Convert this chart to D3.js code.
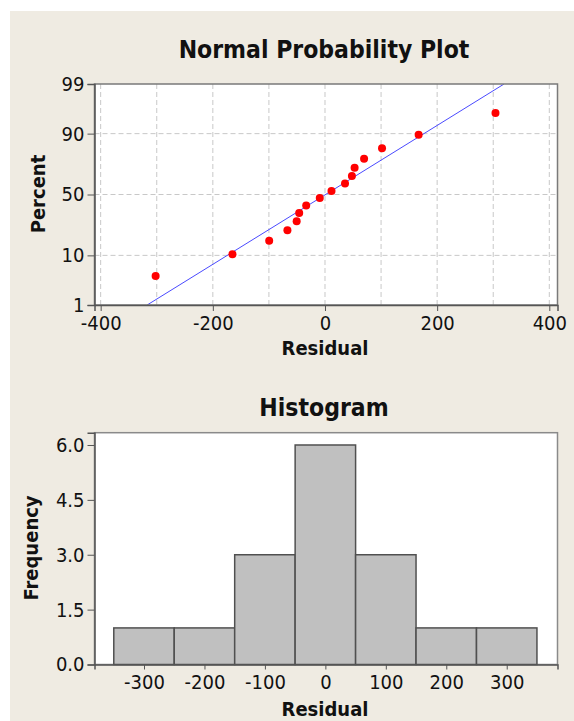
<!DOCTYPE html>
<html>
<head>
<meta charset="utf-8">
<script src="https://cdn.jsdelivr.net/npm/d3@7"></script>
<style>
  body { margin: 0; background: #fff; }
  svg text { font-family: "DejaVu Sans Condensed", "DejaVu Sans", sans-serif; font-stretch: condensed; fill: #111; }
  .title { font-size: 24.5px; font-weight: bold; }
  .label { font-size: 20px; font-weight: bold; }
  .tick text { font-size: 20px; }
</style>
</head>
<body>
<svg width="574" height="721"></svg>
<script>
// residuals, sorted
var residuals = [-302, -165, -99.5, -67, -50.5, -46, -33.5, -9.3, 11.6, 35.7, 48, 52.8, 69.7, 101.7, 167, 304];
// percent (plotting positions) of each point
var percents = [4.3, 10.4, 16.5, 22.6, 28.7, 34.8, 40.9, 47.0, 53.0, 59.1, 65.2, 71.3, 77.4, 83.5, 89.6, 95.7];
var percentTicks = [1, 10, 50, 90, 99];
var residTicks = [-400, -200, 0, 200, 400];
var residGrid = [-400, -300, -200, -100, 0, 100, 200, 300, 400];

// histogram
var binMids = [-300, -200, -100, 0, 100, 200, 300];
var binCounts = [1, 1, 3, 6, 3, 1, 1];
var binWidth = 100;
var freqTicks = [0, 1.5, 3, 4.5, 6];

var svg = d3.select("svg");

svg.append("rect")
    .attr("x", 10).attr("y", 11)
    .attr("width", 564).attr("height", 710)
    .attr("fill", "#efebe2");

// inverse normal cdf (Acklam)
function probit(p) {
    var a = [-3.969683028665376e+01, 2.209460984245205e+02, -2.759285104469687e+02, 1.383577518672690e+02, -3.066479806614716e+01, 2.506628277459239e+00],
        b = [-5.447609879822406e+01, 1.615858368580409e+02, -1.556989798598866e+02, 6.680131188771972e+01, -1.328068155288572e+01],
        c = [-7.784894002430293e-03, -3.223964580411365e-01, -2.400758277161838e+00, -2.549732539343734e+00, 4.374664141464968e+00, 2.938163982698783e+00],
        d = [7.784695709041462e-03, 3.224671290700398e-01, 2.445134137142996e+00, 3.754408661907416e+00];
    var q, r, plow = 0.02425;
    if (p < plow) {
        q = Math.sqrt(-2 * Math.log(p));
        return (((((c[0] * q + c[1]) * q + c[2]) * q + c[3]) * q + c[4]) * q + c[5]) /
            ((((d[0] * q + d[1]) * q + d[2]) * q + d[3]) * q + 1);
    }
    if (p > 1 - plow) {
        q = Math.sqrt(-2 * Math.log(1 - p));
        return -(((((c[0] * q + c[1]) * q + c[2]) * q + c[3]) * q + c[4]) * q + c[5]) /
            ((((d[0] * q + d[1]) * q + d[2]) * q + d[3]) * q + 1);
    }
    q = p - 0.5;
    r = q * q;
    return (((((a[0] * r + a[1]) * r + a[2]) * r + a[3]) * r + a[4]) * r + a[5]) * q /
        (((((b[0] * r + b[1]) * r + b[2]) * r + b[3]) * r + b[4]) * r + 1);
}

// plain hyphen for negatives, like the original
function fmtInt(d) { return String(d); }
function fmtOne(d) { return d.toFixed(1); }

// ---------- Normal probability plot ----------
var p1 = {left: 94.5, right: 557.5, top: 84, bottom: 305};

var x1 = d3.scaleLinear().domain([-411, 414.6]).range([p1.left, p1.right]);
var zMin = probit(0.01), zMax = probit(0.99);
var y1 = d3.scaleLinear().domain([zMin, zMax]).range([p1.bottom, p1.top]);

var g1 = svg.append("g");

g1.append("rect")
    .attr("x", p1.left).attr("y", p1.top)
    .attr("width", p1.right - p1.left).attr("height", p1.bottom - p1.top)
    .attr("fill", "#fff");

g1.append("clipPath").attr("id", "clip1")
    .append("rect")
    .attr("x", p1.left).attr("y", p1.top)
    .attr("width", p1.right - p1.left).attr("height", p1.bottom - p1.top);

// grid
g1.append("g").selectAll("line")
    .data(residGrid)
    .enter().append("line")
    .attr("x1", function (d) { return x1(d); })
    .attr("x2", function (d) { return x1(d); })
    .attr("y1", p1.top).attr("y2", p1.bottom)
    .attr("stroke", "#c8c8c8")
    .attr("stroke-dasharray", "5,3");
g1.append("g").selectAll("line")
    .data([10, 50, 90])
    .enter().append("line")
    .attr("x1", p1.left).attr("x2", p1.right)
    .attr("y1", function (d) { return y1(probit(d / 100)); })
    .attr("y2", function (d) { return y1(probit(d / 100)); })
    .attr("stroke", "#c8c8c8")
    .attr("stroke-dasharray", "5,3");

// fitted normal line
var mu = d3.mean(residuals), sigma = d3.deviation(residuals);
g1.append("line")
    .attr("clip-path", "url(#clip1)")
    .attr("x1", x1(mu + sigma * zMin)).attr("y1", y1(zMin))
    .attr("x2", x1(mu + sigma * zMax)).attr("y2", y1(zMax))
    .attr("stroke", "#4a4aff")
    .attr("stroke-width", 1);

// points
g1.append("g").selectAll("circle")
    .data(residuals)
    .enter().append("circle")
    .attr("cx", function (d) { return x1(d); })
    .attr("cy", function (d, i) { return y1(probit(percents[i] / 100)); })
    .attr("r", 4)
    .attr("fill", "#ff0000");

// frame
g1.append("rect")
    .attr("x", p1.left).attr("y", p1.top)
    .attr("width", p1.right - p1.left).attr("height", p1.bottom - p1.top)
    .attr("fill", "none")
    .attr("stroke", "#7a7a7a")
    .attr("stroke-width", 1.5);

g1.append("g")
    .attr("transform", "translate(0," + p1.bottom + ")")
    .call(d3.axisBottom(x1).tickValues(residTicks).tickFormat(fmtInt).tickSize(6).tickPadding(5));
g1.append("g")
    .attr("transform", "translate(" + p1.left + ",0)")
    .call(d3.axisLeft(y1)
        .tickValues(percentTicks.map(function (p) { return probit(p / 100); }))
        .tickFormat(function (d, i) { return percentTicks[i]; })
        .tickSize(7).tickPadding(3));

g1.append("text").attr("class", "title")
    .attr("x", 324).attr("y", 58)
    .attr("text-anchor", "middle")
    .text("Normal Probability Plot");
g1.append("text").attr("class", "label")
    .attr("x", 325).attr("y", 355)
    .attr("text-anchor", "middle")
    .text("Residual");
g1.append("text").attr("class", "label")
    .attr("transform", "translate(44.5,194) rotate(-90)")
    .attr("text-anchor", "middle")
    .text("Percent");

// ---------- Histogram ----------
var p2 = {left: 94.5, right: 557.5, top: 432.7, bottom: 664.5};

var x2 = d3.scaleLinear().domain([-381.9, 384]).range([p2.left, p2.right]);
var y2 = d3.scaleLinear().domain([0, 6.336]).range([p2.bottom, p2.top]);

var g2 = svg.append("g");

g2.append("rect")
    .attr("x", p2.left).attr("y", p2.top)
    .attr("width", p2.right - p2.left).attr("height", p2.bottom - p2.top)
    .attr("fill", "#fff")
    .attr("stroke", "#8a8a8a")
    .attr("stroke-width", 1.5);

g2.append("g").selectAll("rect")
    .data(binMids)
    .enter().append("rect")
    .attr("x", function (d) { return x2(d - binWidth / 2); })
    .attr("width", function (d) { return x2(d + binWidth / 2) - x2(d - binWidth / 2); })
    .attr("y", function (d, i) { return y2(binCounts[i]); })
    .attr("height", function (d, i) { return y2(0) - y2(binCounts[i]); })
    .attr("fill", "#c0c0c0")
    .attr("stroke", "#505050")
    .attr("stroke-width", 1.5);

g2.append("g")
    .attr("transform", "translate(0," + p2.bottom + ")")
    .call(d3.axisBottom(x2).tickValues(binMids).tickFormat(fmtInt).tickSize(5).tickPadding(5));
g2.append("g")
    .attr("transform", "translate(" + p2.left + ",0)")
    .call(d3.axisLeft(y2).tickValues(freqTicks).tickFormat(fmtOne).tickSize(7).tickPadding(3));

g2.append("text").attr("class", "title")
    .attr("x", 324).attr("y", 416)
    .attr("text-anchor", "middle")
    .text("Histogram");
g2.append("text").attr("class", "label")
    .attr("x", 325).attr("y", 716)
    .attr("text-anchor", "middle")
    .text("Residual");
g2.append("text").attr("class", "label")
    .attr("transform", "translate(38,548) rotate(-90)")
    .attr("text-anchor", "middle")
    .text("Frequency");

// axis styling: grey lines like the original
svg.selectAll(".domain").attr("stroke", "#555").attr("stroke-width", 1.5);
svg.selectAll(".tick line").attr("stroke", "#555");
svg.selectAll(".tick text").attr("fill", "#111");
</script>
</body>
</html>
